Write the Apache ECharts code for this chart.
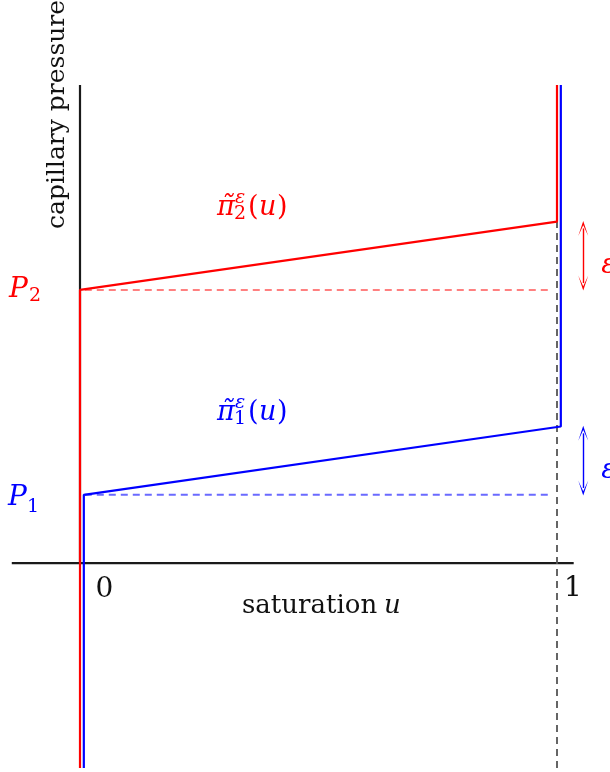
<!DOCTYPE html>
<html>
<head>
<meta charset="utf-8">
<script src="https://cdn.jsdelivr.net/npm/echarts@6/dist/echarts.min.js"></script>
<style>
html, body { margin: 0; padding: 0; background: #fff; }
#chart { width: 610px; height: 772px; }
</style>
</head>
<body>
<div id="chart"></div>
<script>
/* saturation u (x) against capillary pressure (y) */
var uMin = -0.15, uMax = 1.1;
var pMin = -3, pMax = 7;
var P1 = 1, P2 = 4, eps = 1;
var shift = 0.008;   // blue curve sits just right of the red one

var redCurve  = [[0, pMin], [0, P2], [1, P2 + eps], [1, pMax]];
var blueCurve = [[shift, pMin], [shift, P1], [1 + shift, P1 + eps], [1 + shift, pMax]];
var redLevel  = [[0.01, P2], [0.99, P2]];
var blueLevel = [[0.01, P1], [0.99, P1]];
var uOneLine  = [[1, pMin], [1, P2 + eps]];
var xAxisLine = [[-0.143, 0], [1.035, 0]];
var yAxisLine = [[0, 0], [0, pMax]];
var arrowU = 1.055;
var redArrow  = [P2 + 0.1, P2 + eps - 0.1];
var blueArrow = [P1 + 0.1, P1 + eps - 0.1];

var RED = '#ff0000', BLUE = '#0000ff';
var FONT = 'DejaVu Serif';
var head = 'path://M5,0 L10,14 L5,4 L0,14 Z';

function line(data, color, width, type) {
    return {
        type: 'line',
        data: data,
        showSymbol: false,
        symbol: 'none',
        silent: true,
        lineStyle: { color: color, width: width, type: type || 'solid' },
        z: 2
    };
}

function arrow(ys, color) {
    return {
        type: 'line',
        data: [],
        silent: true,
        markLine: {
            silent: true,
            symbol: [head, head],
            symbolSize: [10, 15],
            label: { show: false },
            lineStyle: { color: color, width: 1.4, type: 'solid' },
            itemStyle: { color: color },
            data: [[{ coord: [arrowU, ys[0]] }, { coord: [arrowU, ys[1]] }]]
        }
    };
}

var chart = echarts.init(document.getElementById('chart'));

var option = {
    animation: false,
    grid: { left: 8.45, right: 5.3, top: 85, bottom: 4 },
    xAxis: { type: 'value', min: uMin, max: uMax, show: false },
    yAxis: { type: 'value', min: pMin, max: pMax, show: false },
    series: [
        line(xAxisLine, '#1a1a1a', 2.2),
        line(yAxisLine, '#1a1a1a', 2.2),
        line(uOneLine, '#555555', 1.8, [7, 5]),
        line(redLevel, '#ff8080', 2, [7, 5]),
        line(blueLevel, '#6a6aff', 2, [7, 5]),
        line(redCurve, RED, 2.2),
        line(blueCurve, BLUE, 2.2),
        arrow(redArrow, RED),
        arrow(blueArrow, BLUE)
    ]
};
chart.setOption(option);

/* text, placed by baseline */
function txt(s, x, base, size, color, italic, align) {
    return {
        type: 'text',
        x: x,
        y: base - 0.3 * size,
        silent: true,
        style: {
            text: s,
            fill: color,
            font: (italic ? 'italic ' : '') + size + 'px "' + FONT + '"',
            align: align || 'left',
            verticalAlign: 'middle'
        }
    };
}

function px(u, p) { return chart.convertToPixel({ gridIndex: 0 }, [u, p]); }

var o  = px(0, 0);
var p2 = px(0, P2), p1 = px(0, P1);
var a2 = px(0.287, P2 + eps + 0.08);
var a1 = px(0.287, P1 + eps + 0.08);
var e2 = px(arrowU, P2 + eps / 2), e1 = px(arrowU, P1 + eps / 2);

function piLabel(a, idx, color) {
    var x = a[0], b = a[1];
    return [
        txt('\u03c0\u0303', x, b, 27, color, true),
        txt('\u03b5', x + 18, b - 12, 19, color, true),
        txt(idx, x + 17, b + 4, 19, color, false),
        txt('(', x + 31, b, 27, color, false),
        txt('u', x + 42, b, 27, color, true),
        txt(')', x + 60, b, 27, color, false)
    ];
}

var g = [];
g.push({
    type: 'text',
    x: 57, y: 229,
    rotation: Math.PI / 2,
    silent: true,
    style: {
        text: 'capillary pressure',
        fill: '#111',
        font: '25px "' + FONT + '"',
        align: 'left',
        verticalAlign: 'middle'
    }
});
g.push(txt('0', o[0] + 24.5, o[1] + 35, 28, '#111', false, 'center'));
g.push(txt('1', px(1, 0)[0] + 16, o[1] + 34, 28, '#111', false, 'center'));
g.push(txt('saturation ', 242, o[1] + 51, 26, '#111', false));
g.push(txt('u', 384, o[1] + 51, 26, '#111', true));

g.push(txt('P', p2[0] - 71, p2[1] + 8, 28, RED, true));
g.push(txt('2', p2[0] - 51, p2[1] + 12, 19, RED, false));
g.push(txt('P', p1[0] - 72, p1[1] + 11, 28, BLUE, true));
g.push(txt('1', p1[0] - 53, p1[1] + 18, 19, BLUE, false));

g = g.concat(piLabel(a2, '2', RED), piLabel(a1, '1', BLUE));

g.push(txt('\u03b5', e2[0] + 18, e2[1] + 18, 28, RED, true));
g.push(txt('\u03b5', e1[0] + 18, e1[1] + 18, 28, BLUE, true));

chart.setOption({ graphic: { elements: g } });
</script>
</body>
</html>
